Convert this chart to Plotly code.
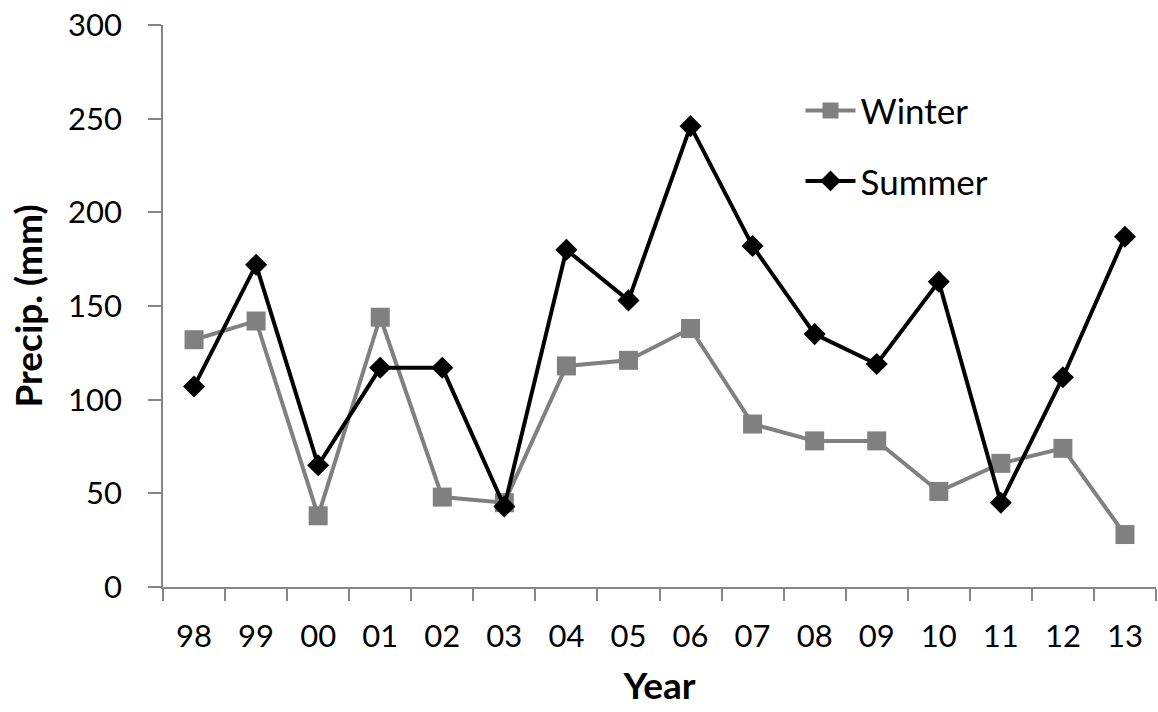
import plotly.graph_objects as go

years = ["98", "99", "00", "01", "02", "03", "04", "05", "06", "07", "08", "09", "10", "11", "12", "13"]
winter = [132, 142, 38, 144, 48, 45, 118, 121, 138, 87, 78, 78, 51, 66, 74, 28]
summer = [107, 172, 65, 117, 117, 43, 180, 153, 246, 182, 135, 119, 163, 45, 112, 187]

font_family = "Lato, Open Sans, sans-serif"

fig = go.Figure()
fig.add_trace(go.Scatter(
    x=years, y=winter, name="Winter", mode="lines+markers", legendgroup="w",
    line=dict(color="#808080", width=4),
    marker=dict(symbol="square", size=19, color="#808080"),
))
fig.add_trace(go.Scatter(
    x=years, y=summer, name="Summer", mode="lines+markers", legendgroup="s",
    line=dict(color="#000000", width=4),
    marker=dict(symbol="diamond", size=17, color="#000000"),
))

fig.update_layout(
    width=1158, height=712,
    margin=dict(l=163, r=2, t=25, b=125),
    paper_bgcolor="white", plot_bgcolor="white",
    font=dict(family=font_family, size=31, color="#000000"),
    showlegend=True,
    legend=dict(
        x=0.642, y=0.9, xanchor="left", yanchor="top",
        bgcolor="rgba(0,0,0,0)", font=dict(size=35),
        itemwidth=50, tracegroupgap=22,
    ),
    xaxis=dict(
        type="category", range=[-0.5, 15.5],
        showline=True, linecolor="#868686", linewidth=1.5,
        ticks="outside", tickson="boundaries", ticklen=12, tickcolor="#868686", tickwidth=1.5,
        showgrid=False, zeroline=False,
        tickfont=dict(size=31), ticklabelstandoff=21,
        title=dict(text="<b>Year</b>", font=dict(size=37), standoff=20),
    ),
    yaxis=dict(
        range=[0, 300], tickvals=[0, 50, 100, 150, 200, 250, 300],
        showline=True, linecolor="#868686", linewidth=1.5,
        ticks="outside", ticklen=13, tickcolor="#868686", tickwidth=1.5,
        showgrid=False, zeroline=False,
        tickfont=dict(size=31), ticklabelstandoff=20,
        title=dict(text="<b>Precip. (mm)</b>", font=dict(size=37), standoff=14),
    ),
)

fig.write_html("out.html")
